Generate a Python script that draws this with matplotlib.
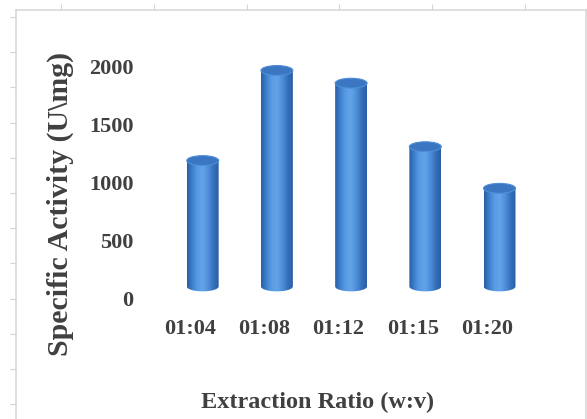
import numpy as np
import matplotlib
matplotlib.use("Agg")
import matplotlib.pyplot as plt
from matplotlib.patches import Ellipse, PathPatch
from matplotlib.path import Path
from matplotlib.colors import LinearSegmentedColormap

# data
ratios = ["01:04", "01:08", "01:12", "01:15", "01:20"]
activity = [1190, 1970, 1860, 1310, 950]
yticks = [0, 500, 1000, 1500, 2000]

txt_col = "#404040"
font = "Liberation Serif"

fig = plt.figure(figsize=(5.87, 4.19), dpi=100)

# light grey page frame with ruler ticks (screenshot look)
W, H = 587, 419
frame = fig.add_axes([16 / W, -0.05, (586 - 16) / W, 1.05 - 10 / H])
frame.set_xlim(16, 586)
frame.set_ylim(419 + 0.05 * H, 10)
frame.set_xticks(np.arange(61, 586, 92.8))
frame.set_yticks(np.arange(17, 419, 35.2))
frame.xaxis.tick_top()
frame.tick_params(axis="both", direction="out", length=4, width=0.8,
                  color="#d4d4d4", labeltop=False, labelleft=False,
                  labelbottom=False)
for s in ["top", "left", "right"]:
    frame.spines[s].set_color("#d9d9d9")
    frame.spines[s].set_linewidth(1.2)
frame.spines["bottom"].set_visible(False)
frame.set_zorder(0)

ax = fig.add_axes([153 / W, (H - 298) / H, 371 / W, 231 / H])
ax.patch.set_alpha(0)
ax.set_zorder(1)

cmap = LinearSegmentedColormap.from_list(
    "cyl", ["#2a5ea6", "#3f82cf", "#5a9ce3", "#62a3e8", "#4f8fd9", "#3672bd", "#2a5ea6"])
grad = cmap(np.linspace(0, 1, 64))[None, :, :3]

x = np.arange(len(ratios))
dx = 0.17       # 3d depth shift of the cylinders
base = 100      # floor level of the 3d plot
bw = 0.43
eh = 85         # ellipse height in data units

for xi, v in zip(x + dx, activity):
    th = np.linspace(np.pi, 2 * np.pi, 40)
    verts = [(xi - bw / 2, v), (xi - bw / 2, base)]
    verts += list(zip(xi + bw / 2 * np.cos(th), base + eh / 2 * np.sin(th)))
    verts += [(xi + bw / 2, v), (xi - bw / 2, v)]
    body = PathPatch(Path(verts), transform=ax.transData,
                     facecolor="none", edgecolor="none")
    ax.add_patch(body)
    im = ax.imshow(grad, extent=(xi - bw / 2, xi + bw / 2, base - eh, v),
                   aspect="auto", zorder=2, interpolation="bilinear")
    im.set_clip_path(body)
    ax.add_patch(Ellipse((xi, v), bw, eh, facecolor="#3a76c2",
                         edgecolor="#4f8dd6", linewidth=0.8, zorder=3,
                         clip_on=False))

ax.set_xlim(-0.5, 4.5)
ax.set_ylim(0, 2000)
ax.set_xticks(x)
ax.set_xticklabels(ratios)
ax.set_yticks(yticks)
ax.tick_params(length=0)
ax.tick_params(axis="y", pad=14)
ax.tick_params(axis="x", pad=15)
for lab in ax.get_xticklabels() + ax.get_yticklabels():
    lab.set_fontfamily(font)
    lab.set_fontweight("bold")
    lab.set_fontsize(16)
    lab.set_color(txt_col)
for s in ax.spines.values():
    s.set_visible(False)

fig.text(60 / W, 1 - 204 / H, "Specific Activity (U\\mg)", rotation=90,
         ha="center", va="center", fontfamily=font, fontweight="bold",
         fontsize=21.5, color=txt_col)
fig.text(318 / W, 1 - 402 / H, "Extraction Ratio (w:v)", ha="center",
         va="center", fontfamily=font, fontweight="bold", fontsize=17.5,
         color=txt_col)

fig.savefig("out.png", dpi=100)
